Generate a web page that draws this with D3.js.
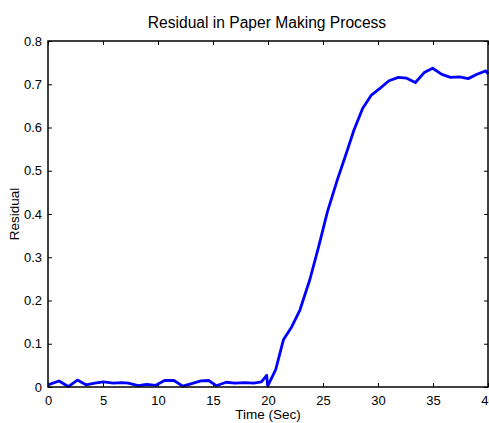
<!DOCTYPE html>
<html>
<head>
<meta charset="utf-8">
<script src="https://cdn.jsdelivr.net/npm/d3@7"></script>
<style>
  html, body { margin: 0; padding: 0; background: #fff; overflow: hidden; }
  svg { display: block; }
  text { font-family: "Liberation Sans", Arial, sans-serif; fill: #000; }
</style>
</head>
<body>
<svg id="chart" width="489" height="423"></svg>
<script>
// ---- data ----
const title = "Residual in Paper Making Process";
const xLabel = "Time (Sec)";
const yLabel = "Residual";
const xTicks = [0, 5, 10, 15, 20, 25, 30, 35, 40];
const yTicks = [0, 0.1, 0.2, 0.3, 0.4, 0.5, 0.6, 0.7, 0.8];
const timeSec = [0, 1.0, 1.85, 2.67, 3.45, 4.25, 5.03, 5.94, 6.7, 7.3, 8.2, 8.97, 9.8,
  10.6, 11.45, 12.25, 13.06, 13.9, 14.6, 15.3, 16.2, 17.0, 17.9, 18.7, 19.4, 19.88, 19.97,
  20.7, 21.4, 22.15, 22.9, 23.8, 24.6, 25.4, 26.3, 27.06, 27.8, 28.6, 29.4, 30.2, 31.0,
  31.85, 32.6, 33.4, 34.2, 34.97, 35.8, 36.6, 37.4, 38.2, 39.0, 39.8, 40];
const residual = [0.005, 0.014, 0.001, 0.016, 0.005, 0.009, 0.012, 0.009, 0.01, 0.009, 0.003, 0.006, 0.004,
  0.015, 0.015, 0.002, 0.008, 0.014, 0.015, 0.003, 0.011, 0.009, 0.01, 0.009, 0.012, 0.027, 0.002,
  0.04, 0.109, 0.139, 0.178, 0.248, 0.324, 0.405, 0.479, 0.536, 0.593, 0.644, 0.675, 0.691, 0.708,
  0.716, 0.714, 0.704, 0.727, 0.737, 0.723, 0.716, 0.717, 0.713, 0.723, 0.731, 0.724];

// ---- layout ----
const svg = d3.select("#chart");
const mLeft = 48, mRight = 488, mTop = 41, mBottom = 387;

const x = d3.scaleLinear().domain([0, 40]).range([mLeft, mRight]);
const y = d3.scaleLinear().domain([0, 0.8]).range([mBottom, mTop]);

const fmtY = d => d === 0 ? "0" : d3.format(".1f")(d);
const tickLen = 4;

// axes with inward ticks on all four sides
const axB = svg.append("g").attr("transform", `translate(0,${mBottom})`)
  .call(d3.axisBottom(x).tickValues(xTicks).tickSizeInner(-tickLen).tickSizeOuter(0).tickPadding(9).tickFormat(d3.format("d")));
const axT = svg.append("g").attr("transform", `translate(0,${mTop})`)
  .call(d3.axisTop(x).tickValues(xTicks).tickSizeInner(-tickLen).tickSizeOuter(0).tickFormat(""));
const axL = svg.append("g").attr("transform", `translate(${mLeft},0)`)
  .call(d3.axisLeft(y).tickValues(yTicks).tickSizeInner(-tickLen).tickSizeOuter(0).tickPadding(6).tickFormat(fmtY));
const axR = svg.append("g").attr("transform", `translate(${mRight},0)`)
  .call(d3.axisRight(y).tickValues(yTicks).tickSizeInner(-tickLen).tickSizeOuter(0).tickFormat(""));

[axB, axT, axL, axR].forEach(g => {
  g.select(".domain").remove();
  g.selectAll(".tick line").attr("stroke", "#000").attr("stroke-width", 1);
  g.selectAll(".tick text").attr("font-size", 13).attr("font-family", "Liberation Sans, Arial, sans-serif");
});

// line
const line = d3.line().x((d, i) => x(timeSec[i])).y(d => y(d));
svg.append("path")
  .datum(residual)
  .attr("d", line)
  .attr("fill", "none")
  .attr("stroke", "#0000ff")
  .attr("stroke-width", 2.8)
  .attr("stroke-linejoin", "round");

// box
svg.append("rect")
  .attr("x", mLeft).attr("y", mTop)
  .attr("width", mRight - mLeft).attr("height", mBottom - mTop)
  .attr("fill", "none").attr("stroke", "#000").attr("stroke-width", 1.5);

// title & labels
svg.append("text").attr("x", (mLeft + mRight) / 2 - 1).attr("y", 28)
  .attr("text-anchor", "middle").attr("font-size", 15.6).text(title);
svg.append("text").attr("x", (mLeft + mRight) / 2).attr("y", 419)
  .attr("text-anchor", "middle").attr("font-size", 13.5).text(xLabel);
svg.append("text").attr("transform", `translate(19,${(mTop + mBottom) / 2}) rotate(-90)`)
  .attr("text-anchor", "middle").attr("font-size", 13.5).text(yLabel);
</script>
</body>
</html>
